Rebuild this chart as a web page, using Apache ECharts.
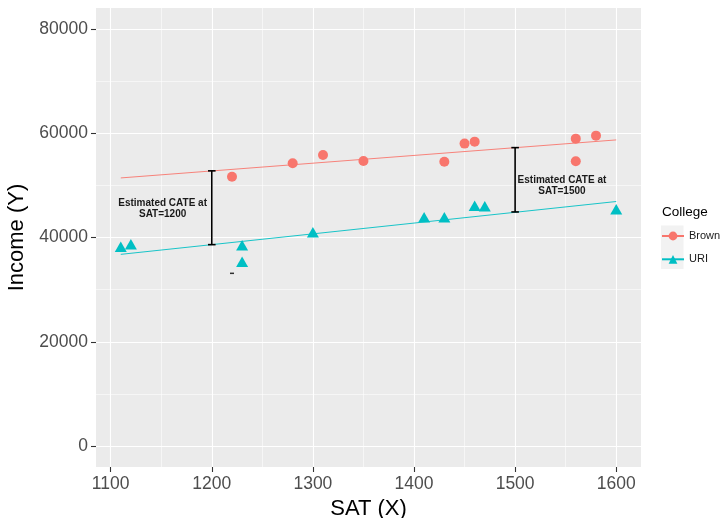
<!DOCTYPE html>
<html>
<head>
<meta charset="utf-8">
<script src="https://cdn.jsdelivr.net/npm/echarts@6/dist/echarts.min.js"></script>
<style>
html,body{margin:0;padding:0;background:#fff;}
#chart{width:724px;height:518px;}
</style>
</head>
<body>
<div id="chart"></div>
<script>
// ---- data ----
const brownSAT    = [1220, 1280, 1310, 1350, 1430, 1450, 1460, 1560, 1560, 1580];
const brownIncome = [51660, 54240, 55830, 54680, 54540, 58000, 58380, 58950, 54620, 59530];
const uriSAT      = [1110, 1120, 1230, 1230, 1300, 1410, 1430, 1460, 1470, 1600];
const uriIncome   = [38240, 38700, 38500, 35360, 41000, 43880, 43880, 46100, 45990, 45410];

// fitted lines (end points)
const fitSAT      = [1110, 1600];
const brownFit    = [51420, 58710];
const uriFit      = [36770, 46900];

// CATE brackets
const cateSAT     = [1200, 1500];
const cateLow     = [38630, 44900];
const cateHigh    = [52780, 57230];

// annotation labels
const annotSAT    = [1151.4, 1546.3];
const annotIncome = [45500, 49840];
const annotText   = ['Estimated CATE at\nSAT=1200', 'Estimated CATE at\nSAT=1500'];

// stray dash mark
const dashSAT     = [1220];
const dashIncome  = [33130];

// axes
const xTicks      = [1100, 1200, 1300, 1400, 1500, 1600];
const xMinor      = [1150, 1250, 1350, 1450, 1550];
const yTicks      = [0, 20000, 40000, 60000, 80000];
const yMinor      = [10000, 30000, 50000, 70000];
const xRange      = [1085.5, 1624.5];
const yRange      = [-4000, 84000];

const seriesNames = ['Brown', 'URI'];
const COLORS = {Brown: '#F8766D', URI: '#00BFC4'};
const FONT = '"Liberation Sans", Arial, sans-serif';

const zip = (a, b) => a.map((v, i) => [v, b[i]]);

const chart = echarts.init(document.getElementById('chart'), null, {renderer: 'canvas'});

const gridMarkData = []
  .concat(xMinor.map(v => ({xAxis: v, lineStyle: {width: 0.55}})))
  .concat(yMinor.map(v => ({yAxis: v, lineStyle: {width: 0.55}})))
  .concat(xTicks.map(v => ({xAxis: v, lineStyle: {width: 1.1}})))
  .concat(yTicks.map(v => ({yAxis: v, lineStyle: {width: 1.1}})));

const option = {
  animation: false,
  backgroundColor: '#ffffff',
  textStyle: {fontFamily: FONT},
  grid: {left: 96, right: 83, top: 8, bottom: 51, show: true, backgroundColor: '#EBEBEB', borderWidth: 0,
         containLabel: false, outerBoundsMode: 'none'},
  xAxis: {
    type: 'value', min: xRange[0], max: xRange[1],
    name: 'SAT (X)', nameLocation: 'middle', nameGap: 29,
    nameTextStyle: {fontSize: 22, color: '#000', fontFamily: FONT},
    axisLine: {show: false, onZero: false},
    axisTick: {show: true, length: 5, lineStyle: {color: '#333333', width: 1.1}, customValues: xTicks},
    axisLabel: {show: true, customValues: xTicks, fontSize: 17.5, color: '#4D4D4D', margin: 8, fontFamily: FONT,
                formatter: v => String(v)},
    splitLine: {show: false}, minorSplitLine: {show: false}
  },
  yAxis: {
    type: 'value', min: yRange[0], max: yRange[1],
    name: 'Income (Y)', nameLocation: 'middle', nameGap: 60, nameRotate: 90,
    nameTextStyle: {fontSize: 22, color: '#000', fontFamily: FONT},
    axisLine: {show: false, onZero: false},
    axisTick: {show: true, length: 5, lineStyle: {color: '#333333', width: 1.1}, customValues: yTicks},
    axisLabel: {show: true, customValues: yTicks, fontSize: 17.5, color: '#4D4D4D', margin: 8, fontFamily: FONT,
                formatter: v => String(v)},
    splitLine: {show: false}, minorSplitLine: {show: false}
  },
  legend: {
    data: seriesNames,
    orient: 'vertical', left: 661, top: 230.5, padding: 0,
    itemWidth: 22, itemHeight: 11, itemGap: 12.3,
    textStyle: {fontSize: 11, color: '#1A1A1A', fontFamily: FONT, lineHeight: 11},
    selectedMode: false
  },
  graphic: [
    {type: 'rect', left: 661, top: 225.5, shape: {width: 22.5, height: 43.5}, style: {fill: '#F2F2F2'}, z: -1, silent: true},
    {type: 'text', left: 662, top: 205, style: {text: 'College', fontSize: 13.5, fill: '#000', fontFamily: FONT}, silent: true}
  ],
  series: [
    {
      name: '_grid', type: 'line', data: [], z: 0, silent: true,
      markLine: {silent: true, z: 0, symbol: ['none', 'none'], label: {show: false},
        lineStyle: {color: '#FFFFFF', type: 'solid', width: 1.1}, data: gridMarkData, animation: false}
    },
    {
      name: 'Brown', type: 'line', data: zip(fitSAT, brownFit), showSymbol: false, symbol: 'circle',
      lineStyle: {color: COLORS.Brown, width: 0.9}, itemStyle: {color: COLORS.Brown}, z: 2, silent: true
    },
    {
      name: 'URI', type: 'line', data: zip(fitSAT, uriFit), showSymbol: false, symbol: 'triangle',
      lineStyle: {color: COLORS.URI, width: 0.9}, itemStyle: {color: COLORS.URI}, z: 2, silent: true
    },
    {
      name: 'Brown', type: 'scatter', data: zip(brownSAT, brownIncome), symbol: 'circle', symbolSize: 10,
      itemStyle: {color: COLORS.Brown, opacity: 1}, z: 3
    },
    {
      name: 'URI', type: 'scatter', data: zip(uriSAT, uriIncome), symbol: 'triangle', symbolSize: [12, 10.5],
      itemStyle: {color: COLORS.URI, opacity: 1}, z: 3
    },
    {
      name: '_cate', type: 'custom', z: 6, silent: true,
      data: cateSAT.map((x, i) => [x, cateLow[i], cateHigh[i]]),
      renderItem: function (params, api) {
        const x = api.value(0);
        const lo = api.coord([x, api.value(1)]);
        const hi = api.coord([x, api.value(2)]);
        const w = 3.8;
        const st = {stroke: '#000', lineWidth: 1.6};
        return {type: 'group', children: [
          {type: 'line', shape: {x1: lo[0], y1: lo[1], x2: hi[0], y2: hi[1]}, style: st},
          {type: 'line', shape: {x1: lo[0] - w, y1: lo[1], x2: lo[0] + w, y2: lo[1]}, style: st},
          {type: 'line', shape: {x1: hi[0] - w, y1: hi[1], x2: hi[0] + w, y2: hi[1]}, style: st}
        ]};
      }
    },
    {
      name: '_annot', type: 'custom', z: 6, silent: true,
      data: annotSAT.map((x, i) => [x, annotIncome[i], i]),
      renderItem: function (params, api) {
        const p = api.coord([api.value(0), api.value(1)]);
        return {type: 'text', x: p[0], y: p[1], style: {
          text: annotText[api.value(2)], textAlign: 'center', textVerticalAlign: 'middle',
          fontSize: 10, fontWeight: 'bold', lineHeight: 11, fill: '#1A1A1A', fontFamily: FONT}};
      }
    },
    {
      name: '_dash', type: 'scatter', data: zip(dashSAT, dashIncome), symbol: 'rect', symbolSize: [4, 1.5],
      itemStyle: {color: '#000'}, z: 6, silent: true
    }
  ]
};
chart.setOption(option);
</script>
</body>
</html>
